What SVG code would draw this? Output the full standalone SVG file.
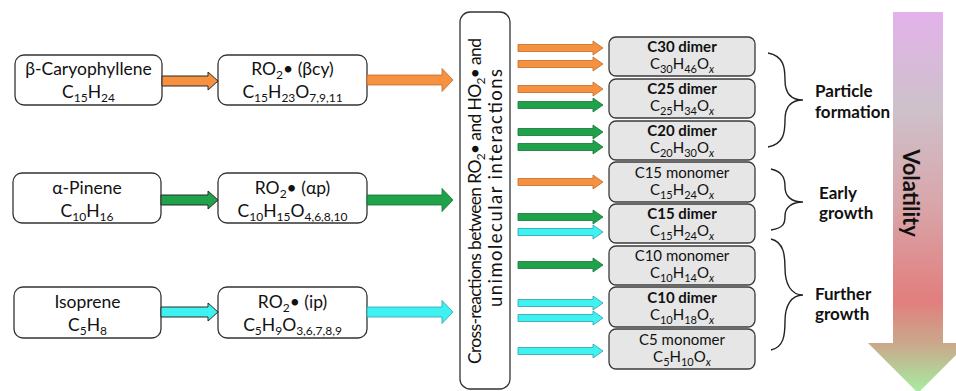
<svg xmlns="http://www.w3.org/2000/svg" width="956" height="391" viewBox="0 0 956 391">
<defs>
<linearGradient id="vol" x1="0" y1="12" x2="0" y2="391" gradientUnits="userSpaceOnUse">
<stop offset="0" stop-color="#e3b2eb"/>
<stop offset="0.25" stop-color="#cec1cb"/>
<stop offset="0.5" stop-color="#d8a7ab"/>
<stop offset="0.76" stop-color="#e27e7e"/>
<stop offset="0.88" stop-color="#c9aa8c"/>
<stop offset="1" stop-color="#a6eca0"/>
</linearGradient>
</defs>
<style>
text{font-family:Lato,"Open Sans","Liberation Sans",sans-serif;fill:#111}
.src{fill:#fff;stroke:#333;stroke-width:1.3}
.prod{fill:#e6e6e6;stroke:#3a3a3a;stroke-width:1.3}
.t{font-size:17.5px;text-anchor:middle}
.pt{font-size:15px;text-anchor:middle}
.b{font-weight:bold}
.lab{font-size:17px;font-weight:bold}
.or{fill:#f5913f;stroke:#c06a2a;stroke-width:0.8}
.gr{fill:#1fa24a;stroke:#137436;stroke-width:0.8}
.cy{fill:#3ff2f2;stroke:#2f9ea6;stroke-width:0.8}
.dk{stroke:#2a2a2a;stroke-width:1}
.brace{fill:none;stroke:#222;stroke-width:1.4}
</style>

<g id="volatility">
<polygon points="893,12 943,12 943,343 968,343 918,393 868,343 893,343" fill="url(#vol)"/>
<text transform="translate(903,193) rotate(90)" text-anchor="middle" style="font-size:22px;font-weight:bold">Volatility</text>
</g>

<g id="n-bcy">
<rect class="src" x="15" y="55" width="147" height="50" rx="9"/>
<text class="t" x="88.5" y="75">β-Caryophyllene</text>
<text class="t" x="88.5" y="98">C<tspan dy="4" font-size="12">15</tspan><tspan dy="-4">H</tspan><tspan dy="4" font-size="12">24</tspan></text>
</g>
<g id="n-ro2-bcy">
<rect class="src" x="218" y="55" width="149" height="50" rx="9"/>
<text class="t" x="292.5" y="75">RO<tspan dy="4" font-size="12">2</tspan><tspan dy="-4">• (βcy)</tspan></text>
<text class="t" x="292.5" y="98">C<tspan dy="4" font-size="12">15</tspan><tspan dy="-4">H</tspan><tspan dy="4" font-size="12">23</tspan><tspan dy="-4">O</tspan><tspan dy="4" font-size="12">7,9,11</tspan></text>
</g>
<g id="n-ap">
<rect class="src" x="13" y="173" width="148" height="50" rx="9"/>
<text class="t" x="87" y="194">α-Pinene</text>
<text class="t" x="87" y="217">C<tspan dy="4" font-size="12">10</tspan><tspan dy="-4">H</tspan><tspan dy="4" font-size="12">16</tspan></text>
</g>
<g id="n-ro2-ap">
<rect class="src" x="218" y="173" width="149" height="50" rx="9"/>
<text class="t" x="292.5" y="194">RO<tspan dy="4" font-size="12">2</tspan><tspan dy="-4">• (αp)</tspan></text>
<text class="t" x="292.5" y="217">C<tspan dy="4" font-size="12">10</tspan><tspan dy="-4">H</tspan><tspan dy="4" font-size="12">15</tspan><tspan dy="-4">O</tspan><tspan dy="4" font-size="12">4,6,8,10</tspan></text>
</g>
<g id="n-ip">
<rect class="src" x="14" y="287" width="147" height="51" rx="9"/>
<text class="t" x="87.5" y="308">Isoprene</text>
<text class="t" x="87.5" y="331">C<tspan dy="4" font-size="12">5</tspan><tspan dy="-4">H</tspan><tspan dy="4" font-size="12">8</tspan></text>
</g>
<g id="n-ro2-ip">
<rect class="src" x="218" y="287" width="149" height="51" rx="9"/>
<text class="t" x="292.5" y="308">RO<tspan dy="4" font-size="12">2</tspan><tspan dy="-4">• (ip)</tspan></text>
<text class="t" x="292.5" y="331">C<tspan dy="4" font-size="12">5</tspan><tspan dy="-4">H</tspan><tspan dy="4" font-size="12">9</tspan><tspan dy="-4">O</tspan><tspan dy="4" font-size="12">3,6,7,8,9</tspan></text>
</g>

<g id="n-cross">
<rect class="src" x="460" y="12" width="50" height="377" rx="10"/>
<text transform="translate(481,201) rotate(-90)" text-anchor="middle" textLength="326" lengthAdjust="spacing" style="font-size:17.5px">Cross-reactions between RO<tspan dy="4" font-size="12">2</tspan><tspan dy="-4">• and HO</tspan><tspan dy="4" font-size="12">2</tspan><tspan dy="-4">• and</tspan></text>
<text transform="translate(502,188) rotate(-90)" text-anchor="middle" textLength="238" lengthAdjust="spacing" style="font-size:18.5px">unimolecular interactions</text>
</g>

<g id="p-c30">
<rect class="prod" x="609" y="37" width="146" height="39" rx="7"/>
<text class="pt b" x="682" y="52">C30 dimer</text>
<text class="pt" x="682" y="69">C<tspan dy="4" font-size="11">30</tspan><tspan dy="-4">H</tspan><tspan dy="4" font-size="11">46</tspan><tspan dy="-4">O</tspan><tspan dy="4" font-size="11" font-style="italic">x</tspan></text>
</g>
<g id="p-c25">
<rect class="prod" x="609" y="79" width="146" height="39" rx="7"/>
<text class="pt b" x="682" y="94">C25 dimer</text>
<text class="pt" x="682" y="111">C<tspan dy="4" font-size="11">25</tspan><tspan dy="-4">H</tspan><tspan dy="4" font-size="11">34</tspan><tspan dy="-4">O</tspan><tspan dy="4" font-size="11" font-style="italic">x</tspan></text>
</g>
<g id="p-c20">
<rect class="prod" x="609" y="121" width="146" height="39" rx="7"/>
<text class="pt b" x="682" y="136">C20 dimer</text>
<text class="pt" x="682" y="153">C<tspan dy="4" font-size="11">20</tspan><tspan dy="-4">H</tspan><tspan dy="4" font-size="11">30</tspan><tspan dy="-4">O</tspan><tspan dy="4" font-size="11" font-style="italic">x</tspan></text>
</g>
<g id="p-c15m">
<rect class="prod" x="609" y="162" width="146" height="40" rx="7"/>
<text class="pt" x="682" y="178">C15 monomer</text>
<text class="pt" x="682" y="195">C<tspan dy="4" font-size="11">15</tspan><tspan dy="-4">H</tspan><tspan dy="4" font-size="11">24</tspan><tspan dy="-4">O</tspan><tspan dy="4" font-size="11" font-style="italic">x</tspan></text>
</g>
<g id="p-c15d">
<rect class="prod" x="609" y="204" width="146" height="39" rx="7"/>
<text class="pt b" x="682" y="219">C15 dimer</text>
<text class="pt" x="682" y="236">C<tspan dy="4" font-size="11">15</tspan><tspan dy="-4">H</tspan><tspan dy="4" font-size="11">24</tspan><tspan dy="-4">O</tspan><tspan dy="4" font-size="11" font-style="italic">x</tspan></text>
</g>
<g id="p-c10m">
<rect class="prod" x="609" y="246" width="146" height="39" rx="7"/>
<text class="pt" x="682" y="261">C10 monomer</text>
<text class="pt" x="682" y="278">C<tspan dy="4" font-size="11">10</tspan><tspan dy="-4">H</tspan><tspan dy="4" font-size="11">14</tspan><tspan dy="-4">O</tspan><tspan dy="4" font-size="11" font-style="italic">x</tspan></text>
</g>
<g id="p-c10d">
<rect class="prod" x="609" y="287" width="146" height="40" rx="7"/>
<text class="pt b" x="682" y="303">C10 dimer</text>
<text class="pt" x="682" y="320">C<tspan dy="4" font-size="11">10</tspan><tspan dy="-4">H</tspan><tspan dy="4" font-size="11">18</tspan><tspan dy="-4">O</tspan><tspan dy="4" font-size="11" font-style="italic">x</tspan></text>
</g>
<g id="p-c5m">
<rect class="prod" x="609" y="329" width="146" height="40" rx="7"/>
<text class="pt" x="682" y="345">C5 monomer</text>
<text class="pt" x="682" y="362">C<tspan dy="4" font-size="11">5</tspan><tspan dy="-4">H</tspan><tspan dy="4" font-size="11">10</tspan><tspan dy="-4">O</tspan><tspan dy="4" font-size="11" font-style="italic">x</tspan></text>
</g>

<g id="g-particle">
<path class="brace" d="M768,53 C784,56 785,68 785,80 C785,93 791,100 803,100 C791,100 785,107 785,120 C785,132 784,144 768,147"/>
<text class="lab" x="815" y="97">Particle</text>
<text class="lab" x="815" y="118">formation</text>
</g>
<g id="g-early">
<path class="brace" d="M771,169 C784,172 785,180 785,187 C785,196 791,202 803,202 C791,202 785,208 785,216 C785,223 784,228 771,230"/>
<text class="lab" x="819" y="199">Early</text>
<text class="lab" x="819" y="219">growth</text>
</g>
<g id="g-further">
<path class="brace" d="M771,239 C784,242 785,256 785,268 C785,284 791,295 803,295 C791,295 785,306 785,321 C785,335 784,347 771,350"/>
<text class="lab" x="815" y="300">Further</text>
<text class="lab" x="815" y="320">growth</text>
</g>

<g id="connectors">
<polygon class="or dk" points="162,76 208,76 208,72 218,81 208,90 208,86 162,86"/>
<polygon class="gr dk" points="161,195 208,195 208,191 218,200 208,209 208,205 161,205"/>
<polygon class="cy dk" points="161,307 208,307 208,303 218,312 208,321 208,317 161,317"/>
<polygon class="or" points="367,75 442,75 442,68.5 453,80 442,91.5 442,85 367,85"/>
<polygon class="gr" points="367,195 442,195 442,188.5 453,200 442,211.5 442,205 367,205"/>
<polygon class="cy" points="367,307 442,307 442,300.5 453,312 442,323.5 442,317 367,317"/>
<polygon class="or" points="518,44.5 593,44.5 593,41 603,48 593,55 593,51.5 518,51.5"/>
<polygon class="or" points="518,60.5 593,60.5 593,57 603,64 593,71 593,67.5 518,67.5"/>
<polygon class="or" points="518,85.5 593,85.5 593,82 603,89 593,96 593,92.5 518,92.5"/>
<polygon class="gr" points="518,101.5 593,101.5 593,98 603,105 593,112 593,108.5 518,108.5"/>
<polygon class="gr" points="518,128.5 593,128.5 593,125 603,132 593,139 593,135.5 518,135.5"/>
<polygon class="gr" points="518,143.5 593,143.5 593,140 603,147 593,154 593,150.5 518,150.5"/>
<polygon class="or" points="518,178.5 593,178.5 593,175 603,182 593,189 593,185.5 518,185.5"/>
<polygon class="gr" points="518,213.5 593,213.5 593,210 603,217 593,224 593,220.5 518,220.5"/>
<polygon class="cy" points="518,228.5 593,228.5 593,225 603,232 593,239 593,235.5 518,235.5"/>
<polygon class="gr" points="518,261.5 593,261.5 593,258 603,265 593,272 593,268.5 518,268.5"/>
<polygon class="cy" points="518,299.5 593,299.5 593,296 603,303 593,310 593,306.5 518,306.5"/>
<polygon class="cy" points="518,314.5 593,314.5 593,311 603,318 593,325 593,321.5 518,321.5"/>
<polygon class="cy" points="518,347.5 593,347.5 593,344 603,351 593,358 593,354.5 518,354.5"/>
</g>
</svg>
